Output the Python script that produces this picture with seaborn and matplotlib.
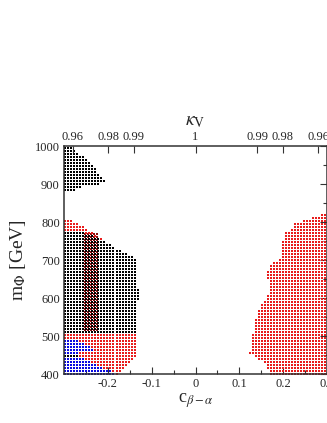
import numpy as np
import pandas as pd
import matplotlib
matplotlib.use('Agg')
import matplotlib.pyplot as plt
import seaborn as sns

# scan lattice (cos(beta-alpha), m_Phi)
c_step = 0.0069
m_step = 7.9

# region edges: m [GeV] and the c edge at that m
black_top_m = [879, 884, 889, 897, 905, 916, 929, 942, 955, 968, 982, 1000]
black_top_c = [-0.295, -0.268, -0.268, -0.218, -0.207, -0.211, -0.223, -0.230, -0.241, -0.253, -0.269, -0.283]

black_main_m = [508, 595, 605, 620, 630, 700, 705, 718, 731, 745, 752, 760, 775]
black_main_c = [-0.132, -0.132, -0.126, -0.126, -0.132, -0.132, -0.138, -0.157, -0.180, -0.200, -0.215, -0.225, -0.255]

black_row_m = [443, 452]
black_row_c = [-0.265, -0.265]

red_up_m = [740, 758, 771, 784, 797, 805]
red_up_c = [-0.200, -0.214, -0.230, -0.248, -0.269, -0.280]

red_low_m = [400, 405, 416, 429, 445, 455, 508]
red_low_c = [-0.180, -0.173, -0.161, -0.150, -0.138, -0.132, -0.132]

red_strip_m = [510, 770]
red_strip_lo = -0.257
red_strip_hi = -0.225

blue_up_m = [453, 458, 465, 475, 485, 495]
blue_up_c = [-0.285, -0.255, -0.232, -0.240, -0.262, -0.280]

blue_low_m = [400, 405, 416, 429, 442]
blue_low_c = [-0.180, -0.182, -0.208, -0.232, -0.252]

red_right_m = [400, 405, 418, 432, 445, 455, 497, 524, 568, 595, 613, 629, 655, 682, 695, 708, 771, 779, 797, 805, 818, 823]
red_right_c = [0.168, 0.168, 0.164, 0.155, 0.135, 0.123, 0.129, 0.132, 0.143, 0.155, 0.170, 0.170, 0.163, 0.166, 0.177, 0.197, 0.200, 0.216, 0.227, 0.243, 0.285, 0.292]

kappa_ticks = [0.96, 0.98, 0.99]


c_grid = np.arange(-0.2975, 0.3, c_step)
m_grid = np.arange(401, 1001, m_step)


def fill(bm, bc, side, name, lo=-0.3, off=0.0):
    rows = []
    for m in m_grid[(m_grid >= min(bm)) & (m_grid <= max(bm))]:
        edge = np.interp(m, bm, bc)
        cs = c_grid + off
        cs = cs[(cs <= edge) & (cs >= lo)] if side == 'left' else cs[cs >= edge]
        for c in cs:
            rows.append((c, m + off * 1000, name))
    return rows


pts = []
pts += fill(red_strip_m, [red_strip_hi] * 2, 'left', 'strip', lo=red_strip_lo, off=c_step / 2)
pts += fill(red_up_m, red_up_c, 'left', 'red')
pts += fill(red_low_m, red_low_c, 'left', 'red')
pts += fill(black_top_m, black_top_c, 'left', 'black')
pts += fill(black_main_m, black_main_c, 'left', 'black')
pts += fill(black_row_m, black_row_c, 'left', 'black')
pts += fill(blue_up_m, blue_up_c, 'left', 'blue')
pts += fill(blue_low_m, blue_low_c, 'left', 'blue')
pts += fill(red_right_m, red_right_c, 'right', 'red')
df = pd.DataFrame(pts, columns=['c', 'm', 'layer'])

sns.set_style('white')
plt.rcParams['font.family'] = ['Liberation Serif', 'DejaVu Serif']
plt.rcParams['mathtext.fontset'] = 'stix'

fig = plt.figure(figsize=(3.27, 4.23), dpi=100)
ax = fig.add_axes([64 / 327, 49 / 423, 263 / 327, 228 / 423])

colors = {'strip': '#8a1010', 'red': '#e81c1c', 'black': 'black', 'blue': '#0a0ae0'}
sizes = {'strip': 1.2, 'red': 2.6, 'black': 2.6, 'blue': 2.6}
for layer in ['strip', 'red', 'black', 'blue']:
    d = df[(df.layer == layer) & (df.c < 0)]
    sns.scatterplot(data=d, x='c', y='m', marker='s', s=sizes[layer], color=colors[layer],
                    linewidth=0, ax=ax, legend=False)
d = df[(df.layer == 'red') & (df.c > 0)]
sns.scatterplot(data=d, x='c', y='m', marker='s', s=2.6, color=colors['red'],
                linewidth=0, ax=ax, legend=False)

ax.set_xlim(-0.3, 0.3)
ax.set_ylim(400, 1000)
ax.set_xticks([-0.2, -0.1, 0, 0.1, 0.2, 0.3])
ax.set_xticklabels(['-0.2', '-0.1', '0', '0.1', '0.2', '0.3'])
ax.set_xticks(np.arange(-0.25, 0.3, 0.05), minor=True)
ax.set_yticks(np.arange(400, 1001, 100))
ax.set_yticks(np.arange(450, 1000, 100), minor=True)
ax.tick_params(which='both', direction='in', right=True, top=False, labelsize=9,
               color='#333333', width=0.8, pad=3)
ax.tick_params(which='major', length=5)
ax.tick_params(which='minor', length=3)
for s in ax.spines.values():
    s.set_color('#333333')
    s.set_linewidth(1.1)
ax.set_xlabel(r'c$_{\beta-\alpha}$', fontsize=13, labelpad=1)
ax.set_ylabel(r'm$_{\Phi}$ [GeV]', fontsize=14, labelpad=5)

top = ax.twiny()
top.set_xlim(ax.get_xlim())
kpos = [-np.sqrt(1 - k ** 2) for k in kappa_ticks] + [0] + [np.sqrt(1 - k ** 2) for k in kappa_ticks[::-1]]
klab = [str(k) for k in kappa_ticks] + ['1'] + [str(k) for k in kappa_ticks[::-1]]
top.set_xticks(kpos)
top.set_xticklabels(klab)
top.tick_params(direction='in', length=5, labelsize=9, color='#333333', width=0.8, pad=2)
top.set_xlabel(r'$\kappa_{\mathrm{V}}$', fontsize=14, labelpad=4)
for s in top.spines.values():
    s.set_visible(False)

fig.savefig('out.png', dpi=100)
